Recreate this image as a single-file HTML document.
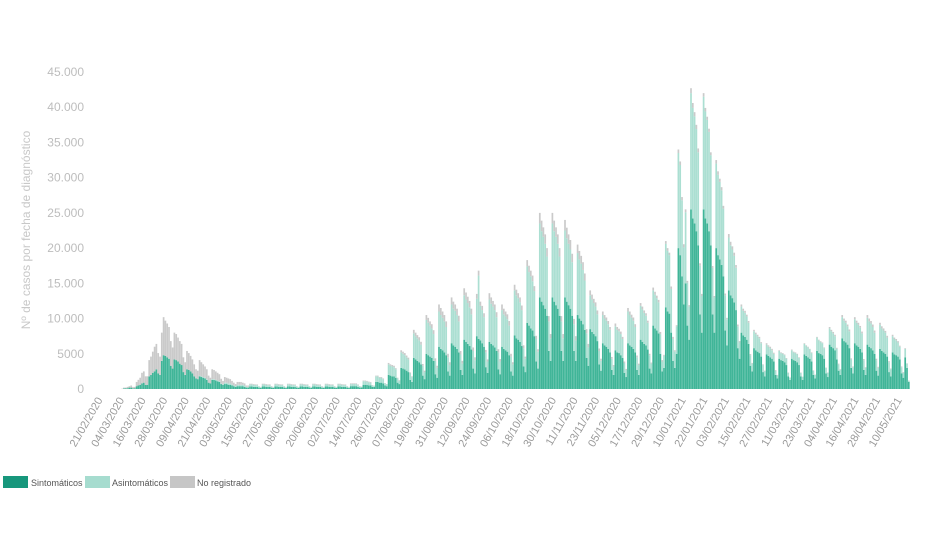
<!DOCTYPE html>
<html><head><meta charset="utf-8"><style>
body{margin:0;background:#fff;}
svg{display:block;font-family:"Liberation Sans",sans-serif;}
</style></head><body>
<svg id="chart" width="940" height="558" viewBox="0 0 940 558">
<text x="30" y="230" transform="rotate(-90 30 230)" text-anchor="middle" font-size="12" fill="#c8c8c8">Nº de casos por fecha de diagnóstico</text>
<g id="yticks"></g>
<g id="bars"></g>
<g id="xticks"></g>
<g font-size="9" fill="#555">
<g><rect x="3" y="476" width="25" height="12" fill="#17977c"/><text x="31" y="486">Sintomáticos</text></g>
<g><rect x="85" y="476" width="25" height="12" fill="#a6dccf"/><text x="112" y="486">Asintomáticos</text></g>
<g><rect x="170" y="476" width="25" height="12" fill="#c6c6c6"/><text x="197" y="486">No registrado</text></g>
</g>
</svg>
<script>
const yTicks=[0,5000,10000,15000,20000,25000,30000,35000,40000,45000];
const yTickLabels=["0","5000","10.000","15.000","20.000","25.000","30.000","35.000","40.000","45.000"];
const xLabels=["21/02/2020","04/03/2020","16/03/2020","28/03/2020","09/04/2020","21/04/2020","03/05/2020","15/05/2020","27/05/2020","08/06/2020","20/06/2020","02/07/2020","14/07/2020","26/07/2020","07/08/2020","19/08/2020","31/08/2020","12/09/2020","24/09/2020","06/10/2020","18/10/2020","30/10/2020","11/11/2020","23/11/2020","05/12/2020","17/12/2020","29/12/2020","10/01/2021","22/01/2021","03/02/2021","15/02/2021","27/02/2021","11/03/2021","23/03/2021","04/04/2021","16/04/2021","28/04/2021","10/05/2021"];
// daily values in thousands
const sintomaticos=[0,0,0,
0,0,0,0,0,0,0, 0.1,0.1,0.1,0.2,0.2,0.1,0.1, 0.4,0.5,0.6,0.8,0.9,0.6,0.6, 1.8,2.0,2.3,2.5,2.8,2.2,2.0,
4.0,4.8,4.7,4.5,4.3,3.3,2.9, 4.2,4.1,3.9,3.6,3.4,2.4,2.0, 2.8,2.7,2.5,2.2,1.8,1.5,1.4, 1.8,1.7,1.6,1.5,1.3,0.9,0.8,
1.3,1.3,1.2,1.1,1.0,0.7,0.6, 0.7,0.7,0.6,0.6,0.5,0.4,0.3, 0.4,0.4,0.4,0.4,0.3,0.2,0.2,
0.35,0.35,0.3,0.3,0.3,0.2,0.15, 0.35,0.35,0.3,0.3,0.3,0.2,0.15, 0.35,0.35,0.3,0.3,0.3,0.2,0.15, 0.35,0.35,0.3,0.3,0.3,0.2,0.15,
0.35,0.35,0.3,0.3,0.3,0.2,0.15, 0.35,0.35,0.3,0.3,0.3,0.2,0.15, 0.35,0.35,0.3,0.3,0.3,0.2,0.15, 0.35,0.35,0.3,0.3,0.3,0.2,0.15,
0.4,0.4,0.4,0.4,0.3,0.2,0.2, 0.6,0.6,0.6,0.5,0.5,0.3,0.3, 1.0,1.0,0.9,0.9,0.8,0.5,0.4, 2.0,1.9,1.8,1.8,1.6,0.9,0.7,
3.0,2.9,2.8,2.6,2.4,1.3,1.0, 4.4,4.2,4.0,3.8,3.5,1.9,1.4, 5.0,4.8,4.6,4.4,4.0,2.1,1.6, 6.0,5.7,5.5,5.2,4.8,2.5,1.9,
6.5,6.2,6.0,5.7,5.2,2.7,2.0, 7.0,6.7,6.4,6.1,5.6,2.9,2.2, 7.5,7.1,6.9,6.5,6.0,3.1,2.3, 6.7,6.4,6.2,5.9,5.4,2.8,2.1,
6.0,5.7,5.5,5.3,4.8,2.5,1.9, 7.6,7.2,7.0,6.7,6.1,3.2,2.4, 9.4,9.0,8.6,8.3,7.5,3.9,2.9, 13.0,12.4,11.9,11.4,10.4,5.4,4.0,
13.0,12.4,11.9,11.4,10.4,5.4,4.0, 13.0,12.4,11.9,11.4,10.4,5.4,4.0, 10.5,10.0,9.7,9.2,8.4,4.4,3.3, 8.5,8.1,7.8,7.5,6.8,3.5,2.6,
6.5,6.2,6.0,5.7,5.2,2.7,2.0, 5.5,5.2,5.1,4.8,4.4,2.3,1.7, 6.5,6.2,6.0,5.7,5.2,2.7,2.0, 7.0,6.7,6.4,6.2,5.6,2.9,2.2,
9.0,8.6,8.3,7.9,5.0,2.5,3.0, 11.6,11.0,10.7,8.0,4.0,3.0,5.0, 20.0,19.0,16.0,12.0,15.0,9.0,7.0, 25.5,24.2,23.5,22.4,20.4,10.6,8.0,
25.5,24.2,23.5,22.4,20.4,10.6,8.0, 20.0,19.0,18.4,17.6,16.0,8.3,6.2, 14.0,13.3,12.9,12.3,11.2,5.8,4.3, 8.0,7.6,7.4,7.0,6.4,3.3,2.5,
5.8,5.5,5.3,5.1,4.6,2.4,1.8, 4.9,4.7,4.5,4.3,3.9,2.0,1.5, 4.3,4.1,4.0,3.8,3.4,1.8,1.3, 4.3,4.1,4.0,3.8,3.4,1.8,1.3,
4.9,4.7,4.5,4.3,3.9,2.0,1.5, 5.4,5.1,5.0,4.8,4.3,2.2,1.7, 6.3,6.0,5.8,5.5,4.2,2.6,2.0, 7.2,6.8,6.6,6.3,5.8,3.0,2.2,
6.5,6.2,6.0,5.7,5.2,2.7,2.0, 6.3,6.0,5.8,5.5,5.0,2.6,1.9, 5.7,5.4,5.2,5.0,4.6,2.4,1.8, 5.2,4.9,4.8,4.6,4.2,2.2,1.6,
4.5,3.0,1.0];
const asintomaticos=[0,0,0,
0,0,0,0,0,0,0, 0,0,0,0,0,0,0, 0,0,0,0,0,0,0, 0,0,0,0,0,0,0,
0,0,0,0,0,0,0, 0,0,0,0,0,0,0, 0,0,0,0,0,0,0, 0.1,0.1,0.1,0.1,0.1,0,0,
0.1,0.1,0.1,0.1,0.1,0.05,0.05, 0.2,0.2,0.2,0.2,0.15,0.1,0.1, 0.2,0.2,0.2,0.2,0.2,0.1,0.1,
0.3,0.3,0.3,0.25,0.25,0.15,0.1, 0.3,0.3,0.3,0.25,0.25,0.15,0.1, 0.3,0.3,0.3,0.25,0.25,0.15,0.1, 0.3,0.3,0.3,0.25,0.25,0.15,0.1,
0.3,0.3,0.3,0.25,0.25,0.15,0.1, 0.3,0.3,0.3,0.25,0.25,0.15,0.1, 0.3,0.3,0.3,0.25,0.25,0.15,0.1, 0.3,0.3,0.3,0.25,0.25,0.15,0.1,
0.3,0.3,0.3,0.3,0.25,0.15,0.1, 0.5,0.5,0.45,0.45,0.4,0.2,0.15, 0.8,0.8,0.7,0.7,0.6,0.3,0.25, 1.5,1.4,1.4,1.3,1.2,0.6,0.45,
2.2,2.1,2.0,1.9,1.8,0.9,0.7, 3.5,3.3,3.2,3.1,2.8,1.4,1.0, 4.8,4.6,4.4,4.2,3.8,1.9,1.4, 5.0,4.8,4.6,4.4,4.0,2.0,1.5,
5.5,5.2,5.1,4.8,4.4,2.2,1.6, 6.3,6.0,5.8,5.5,5.0,2.5,1.9, 5.3,9.0,4.9,4.7,4.2,2.1,1.6, 6.0,5.7,5.5,5.3,4.8,2.4,1.8,
5.2,4.9,4.8,4.6,4.2,2.1,1.6, 6.4,6.1,5.9,5.6,5.1,2.6,1.9, 8.0,7.6,7.4,7.0,6.4,3.2,2.4, 10.5,10.0,9.7,9.2,8.4,4.2,3.2,
10.5,10.0,9.7,9.2,8.4,4.2,3.2, 9.5,9.0,8.7,8.4,7.6,3.8,2.9, 8.8,8.4,8.1,7.7,7.0,3.5,2.6, 4.8,4.6,4.4,4.2,3.8,1.9,1.4,
4.0,3.8,3.7,3.5,3.2,1.6,1.2, 3.4,3.2,3.1,3.0,2.7,1.4,1.0, 4.5,4.3,4.1,4.0,3.6,1.8,1.4, 4.8,4.6,4.4,4.2,3.8,1.9,1.4,
5.0,4.8,4.6,4.4,2.8,1.4,1.7, 9.0,8.6,8.3,6.2,3.1,2.3,3.9, 13.5,12.8,10.8,8.1,10.1,6.1,4.7, 16.5,15.7,15.2,14.5,13.2,6.9,5.2,
16.0,15.2,14.7,14.1,12.8,6.6,5.0, 12.0,11.4,11.0,10.6,9.6,5.0,3.7, 7.5,7.1,6.9,6.6,6.0,3.1,2.3, 3.7,3.5,3.4,3.3,3.0,1.5,1.1,
2.4,2.3,2.2,2.1,1.9,1.0,0.7, 1.4,1.3,1.3,1.2,1.1,0.6,0.4, 1.1,1.0,1.0,1.0,0.9,0.5,0.3, 1.2,1.1,1.1,1.1,1.0,0.5,0.4,
1.5,1.4,1.4,1.3,1.2,0.6,0.5, 1.9,1.8,1.7,1.7,1.5,0.8,0.6, 2.3,2.2,2.1,2.0,1.5,0.9,0.7, 3.0,2.9,2.8,2.6,2.4,1.2,0.9,
3.4,3.2,3.1,3.0,2.7,1.4,1.0, 3.8,3.6,3.5,3.3,3.0,1.5,1.1, 3.4,3.2,3.1,3.0,2.7,1.4,1.0, 2.3,2.2,2.1,2.0,1.8,0.9,0.7,
1.2,0.6,0.2];
const noRegistrado=[0,0,0,
0,0,0,0,0,0,0.05, 0.1,0.1,0.2,0.2,0.3,0.2,0.2, 0.6,0.8,1.0,1.5,1.6,1.2,1.2, 2.3,2.6,3.0,3.5,3.6,2.9,2.6,
4.0,5.4,5.0,4.8,4.5,3.5,3.0, 3.8,3.7,3.4,3.2,3.0,2.1,1.8, 2.6,2.4,2.2,2.0,1.7,1.3,1.2, 2.2,2.0,1.8,1.6,1.4,1.0,0.8,
1.4,1.3,1.2,1.1,1.0,0.7,0.5, 0.8,0.7,0.7,0.6,0.5,0.4,0.3, 0.4,0.4,0.4,0.3,0.3,0.2,0.2,
0.1,0.1,0.1,0.1,0.1,0.05,0.05, 0.1,0.1,0.1,0.1,0.1,0.05,0.05, 0.1,0.1,0.1,0.1,0.1,0.05,0.05, 0.1,0.1,0.1,0.1,0.1,0.05,0.05,
0.1,0.1,0.1,0.1,0.1,0.05,0.05, 0.1,0.1,0.1,0.1,0.1,0.05,0.05, 0.1,0.1,0.1,0.1,0.1,0.05,0.05, 0.1,0.1,0.1,0.1,0.1,0.05,0.05,
0.1,0.1,0.1,0.1,0.1,0.05,0.05, 0.1,0.1,0.1,0.1,0.1,0.05,0.05, 0.1,0.1,0.1,0.1,0.1,0.05,0.05, 0.2,0.2,0.2,0.2,0.15,0.1,0.1,
0.3,0.3,0.3,0.25,0.25,0.15,0.1, 0.5,0.5,0.45,0.45,0.4,0.25,0.2, 0.7,0.7,0.6,0.6,0.55,0.35,0.3, 1.0,1.0,0.9,0.9,0.8,0.5,0.4,
1.0,1.0,0.9,0.9,0.8,0.5,0.4, 1.0,1.0,0.9,0.9,0.8,0.5,0.4, 0.7,0.7,0.6,0.6,0.55,0.35,0.3, 0.9,0.9,0.8,0.8,0.7,0.45,0.35,
0.8,0.8,0.7,0.7,0.65,0.4,0.3, 0.8,0.8,0.7,0.7,0.65,0.4,0.3, 0.9,0.9,0.8,0.8,0.7,0.45,0.35, 1.5,1.5,1.35,1.35,1.2,0.75,0.6,
1.5,1.5,1.35,1.35,1.2,0.75,0.6, 1.5,1.5,1.35,1.35,1.2,0.75,0.6, 1.2,1.2,1.1,1.1,1.0,0.6,0.5, 0.7,0.7,0.6,0.6,0.55,0.35,0.3,
0.5,0.5,0.45,0.45,0.4,0.25,0.2, 0.4,0.4,0.35,0.35,0.3,0.2,0.15, 0.5,0.5,0.45,0.45,0.4,0.25,0.2, 0.4,0.4,0.35,0.35,0.3,0.2,0.15,
0.4,0.4,0.35,0.35,0.3,0.2,0.15, 0.4,0.4,0.35,0.35,0.3,0.2,0.15, 0.5,0.5,0.45,0.45,0.4,0.25,0.2, 0.7,0.7,0.6,0.6,0.55,0.35,0.3,
0.5,0.5,0.45,0.45,0.4,0.25,0.2, 0.5,0.5,0.45,0.45,0.4,0.25,0.2, 0.5,0.5,0.45,0.45,0.4,0.25,0.2, 0.3,0.3,0.3,0.25,0.25,0.15,0.1,
0.2,0.2,0.2,0.2,0.15,0.1,0.1, 0.2,0.2,0.2,0.2,0.15,0.1,0.1, 0.1,0.1,0.1,0.1,0.1,0.05,0.05, 0.1,0.1,0.1,0.1,0.1,0.05,0.05,
0.1,0.1,0.1,0.1,0.1,0.05,0.05, 0.1,0.1,0.1,0.1,0.1,0.05,0.05, 0.2,0.2,0.2,0.2,0.15,0.1,0.1, 0.3,0.3,0.3,0.25,0.25,0.15,0.1,
0.3,0.3,0.3,0.25,0.25,0.15,0.1, 0.4,0.4,0.35,0.35,0.3,0.2,0.15, 0.3,0.3,0.3,0.25,0.25,0.15,0.1, 0.2,0.2,0.2,0.2,0.15,0.1,0.1,
0.1,0.05,0.0];

const NS='http://www.w3.org/2000/svg';
const X0=106, DX=1.8, Y0=389, PXK=317/45;
function xScale(d){return X0+DX*d;}
function yScale(v){return Y0-v*PXK;}      // v in thousands
function yTickPos(v){return Y0-v/1000*PXK;}

const yg=document.getElementById('yticks');
yTicks.forEach((t,i)=>{
  const el=document.createElementNS(NS,'text');
  el.setAttribute('x',84);el.setAttribute('y',yTickPos(t)+4);
  el.setAttribute('text-anchor','end');el.setAttribute('font-size','12');el.setAttribute('fill','#bdbdbd');
  el.textContent=yTickLabels[i];
  
  
  yg.appendChild(el);
});

const xg=document.getElementById('xticks');
xLabels.forEach((lab,i)=>{
  const x=xScale(i*12)-3, y=400;
  const el=document.createElementNS(NS,'text');
  el.setAttribute('x',x);el.setAttribute('y',y);
  el.setAttribute('text-anchor','end');el.setAttribute('font-size','11');el.setAttribute('fill','#9a9a9a');
  el.setAttribute('transform','rotate(-60 '+x+' '+y+')');
  el.textContent=lab;
  
  
  xg.appendChild(el);
});

const bg=document.getElementById('bars');
const series=[[sintomaticos,'#40b598','bar-sintomaticos'],[asintomaticos,'#abdfd2','bar-asintomaticos'],[noRegistrado,'#cacaca','bar-no-registrado']];
const n=sintomaticos.length;
for(let d=0;d<n;d++){
  let base=0;
  for(const [arr,col,nm] of series){
    const v=arr[d]||0;
    if(v>0){
      const r=document.createElementNS(NS,'rect');
      r.setAttribute('x',xScale(d)-0.85);
      r.setAttribute('width',1.7);
      r.setAttribute('y',yScale(base+v));
      r.setAttribute('height',yScale(base)-yScale(base+v));
      r.setAttribute('fill',col);
      
      
      bg.appendChild(r);
    }
    base+=v;
  }
}
</script>
</body></html>
